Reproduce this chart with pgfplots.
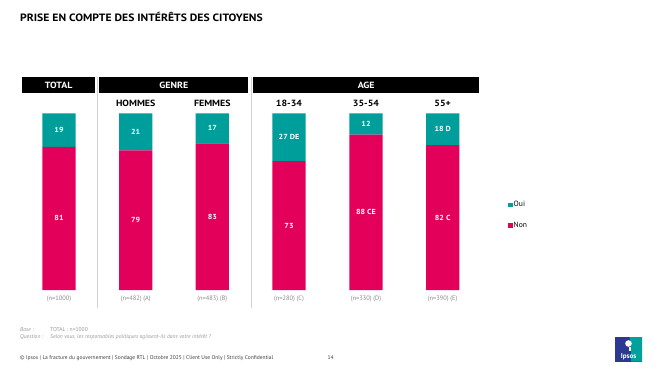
\documentclass[border=0pt]{standalone}
\usepackage{fontspec}
\setmainfont{PT Sans}
\newfontfamily\hfont[FakeStretch=1.1]{PT Sans}
\usepackage{pgfplots}
\pgfplotsset{compat=1.18}
\definecolor{oui}{HTML}{009E9A}
\definecolor{non}{HTML}{E2005A}
\definecolor{sepc}{HTML}{D2D2D2}
\definecolor{ngray}{HTML}{8A8A8A}
\definecolor{fgray}{HTML}{9A9A9A}
\definecolor{ipsosblue}{HTML}{2B3990}
\definecolor{ipsosgreen}{HTML}{00A19A}

\begin{document}
\begin{tikzpicture}[x=1pt,y=1pt]
\fill[white] (0,0) rectangle (664,373);
% title
\node[anchor=west, font=\hfont\bfseries\fontsize{10.6}{12}\selectfont, inner sep=0] at (20,356.3) {PRISE EN COMPTE DES INTÉRÊTS DES CITOYENS};
% header boxes
\fill[black] (22.3,280.3) rectangle (95,295.7);
\fill[black] (99.3,280.3) rectangle (248.3,295.7);
\fill[black] (253,280.3) rectangle (479.3,295.7);
\node[white, font=\hfont\bfseries\fontsize{9}{9}\selectfont] at (58.65,288) {TOTAL};
\node[white, font=\hfont\bfseries\fontsize{9}{9}\selectfont] at (173.8,288) {GENRE};
\node[white, font=\hfont\bfseries\fontsize{9}{9}\selectfont] at (366.2,288) {AGE};
% separators
\draw[sepc, line width=0.6pt] (97.3,296) -- (97.3,65);
\draw[sepc, line width=0.6pt] (251.7,296) -- (251.7,65);
% category labels
\foreach \x/\t in {135.7/HOMMES, 212.3/FEMMES, 289/18-34, 366/35-54, 442.7/55+}
  \node[font=\hfont\bfseries\fontsize{9}{9}\selectfont] at (\x,269.3) {\t};
% n labels
\foreach \x/\t in {59/(n=1000), 135.7/(n=482) (A), 212.3/(n=483) (B), 289/(n=280) (C), 366/(n=330) (D), 442.7/(n=390) (E)}
  \node[text=ngray, font=\fontsize{6.4}{7}\selectfont] at (\x,74) {\t};

\begin{axis}[
  at={(0pt,83pt)}, anchor=south west,
  scale only axis, width=664pt, height=176.7pt,
  xmin=0, xmax=664, ymin=0, ymax=100,
  hide axis, clip=false,
  ybar stacked, bar width=33.3,
  reverse legend,
  legend style={at={(axis cs:508,51)}, anchor=north west, draw=none, fill=none,
    font=\fontsize{7.6}{8}\selectfont, row sep=11.5pt, inner sep=0pt,
    nodes={inner sep=1.2pt}},
  legend cell align=left,
]
\addplot[fill=non, draw=none, legend image code/.code={\fill[non] (0pt,-2.15pt) rectangle (4.3pt,2.15pt);}]
  coordinates {(59,81) (135.7,79) (212.3,83) (289,73) (366,88) (442.7,82)};
\addlegendentry{Non}
\addplot[fill=oui, draw=none, legend image code/.code={\fill[oui] (0pt,-2.15pt) rectangle (4.3pt,2.15pt);}]
  coordinates {(59,19) (135.7,21) (212.3,17) (289,27) (366,12) (442.7,18)};
\addlegendentry{Oui}
\end{axis}

\begin{axis}[
  at={(0pt,83pt)}, anchor=south west,
  scale only axis, width=664pt, height=176.7pt,
  xmin=0, xmax=664, ymin=0, ymax=100,
  hide axis, clip=false,
]
\addplot[draw=none, mark=none, nodes near coords, point meta=explicit symbolic,
  every node near coord/.style={anchor=center, text=white, font=\hfont\bfseries\fontsize{7.3}{8}\selectfont}]
  coordinates {(59,40.5)[81] (135.7,39.5)[79] (212.3,41.5)[83] (289,36.5)[73] (366,44)[88 CE] (442.7,41)[82 C]};
\addplot[draw=none, mark=none, nodes near coords, point meta=explicit symbolic,
  every node near coord/.style={anchor=center, text=white, font=\hfont\bfseries\fontsize{7.3}{8}\selectfont}]
  coordinates {(59,90.5)[19] (135.7,89.5)[21] (212.3,91.5)[17] (289,86.5)[27 DE] (366,94)[12] (442.7,91)[18 D]};
\end{axis}

% base / question
\node[anchor=west, inner sep=0, text=fgray, font=\itshape\fontsize{5.6}{6}\selectfont] at (20,43) {Base :};
\node[anchor=west, inner sep=0, text=fgray, font=\fontsize{5.6}{6}\selectfont] at (50,43) {TOTAL : n=1000};
\node[anchor=west, inner sep=0, text=fgray, font=\itshape\fontsize{5.6}{6}\selectfont] at (20,36) {Question :};
\node[anchor=west, inner sep=0, text=fgray, font=\itshape\fontsize{5.6}{6}\selectfont] at (50,36) {Selon vous, les responsables politiques agissent-ils dans votre intérêt ?};
% footer
\node[anchor=west, inner sep=0, text=black!75, font=\fontsize{5.5}{6}\selectfont] at (20,15) {© Ipsos | La fracture du gouvernement | Sondage RTL | Octobre 2025 | Client Use Only | Strictly Confidential};
\node[inner sep=0, text=black!75, font=\fontsize{5.5}{6}\selectfont] at (330.5,15) {14};
% logo
\fill[ipsosblue] (615,11.3) rectangle (642,36);
\fill[ipsosgreen] (629.5,36) -- (642,36) -- (642,11.3) -- (631,11.3) -- (631,24) -- cycle;
\fill[white] (628.5,29.5) circle (3.3);
\fill[white] (629.2,26) rectangle (631.3,22);
\node[white, inner sep=0, font=\bfseries\fontsize{7}{8}\selectfont] at (628.5,16.5) {Ipsos};
\end{tikzpicture}
\end{document}
